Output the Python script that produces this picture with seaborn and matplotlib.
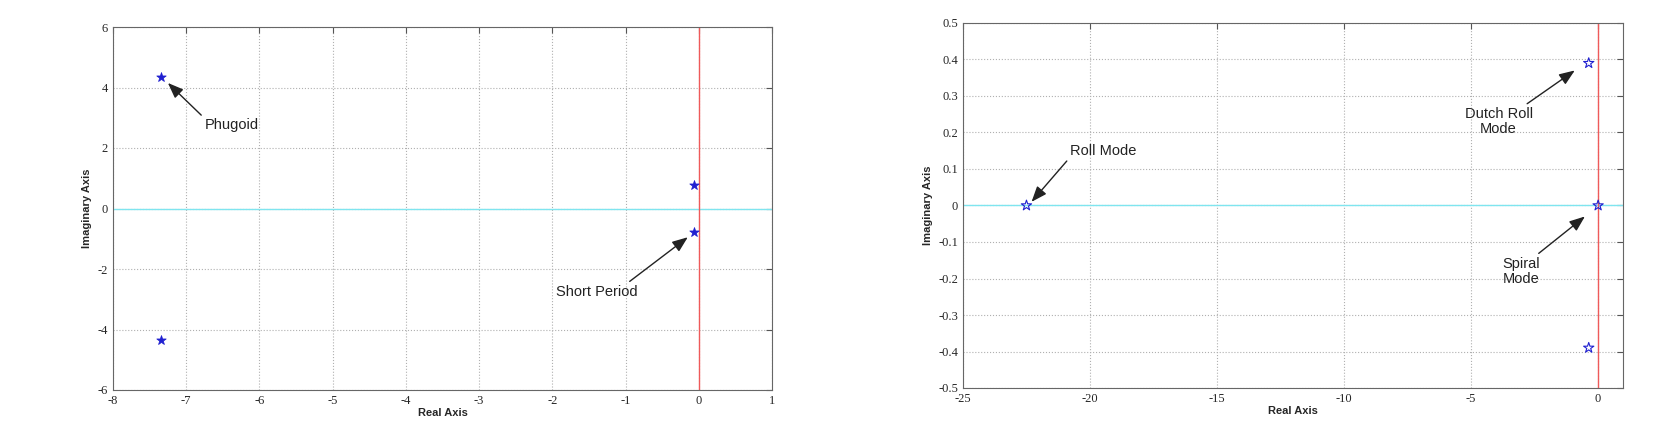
import seaborn as sns
import matplotlib.pyplot as plt
import numpy as np

# longitudinal poles
long_re = [-7.35, -7.35, -0.07, -0.07]
long_im = [4.35, -4.35, 0.78, -0.78]
# lateral poles
lat_re = [-22.5, -0.35, -0.35, 0.02]
lat_im = [0.0, 0.39, -0.39, 0.0]

sns.set_style("white")
plt.rcParams["font.family"] = ["Liberation Serif", "DejaVu Serif"]

fig = plt.figure(figsize=(16.64, 4.38), dpi=100)
ax1 = fig.add_axes([113 / 1664, 48 / 438, 659 / 1664, 363 / 438])
ax2 = fig.add_axes([963 / 1664, 50 / 438, 660 / 1664, 365 / 438])

lab = dict(fontfamily="Liberation Sans", fontweight="bold", fontsize=8)
arrow = dict(arrowstyle="-|>,head_length=0.9,head_width=0.35", color="#222222", lw=1, shrinkA=0, shrinkB=0)
txt = dict(fontfamily="Liberation Sans", fontsize=10.5, color="#222222")


def setup(ax, xlim, ylim, xticks, yticks):
    ax.axhline(0, color="#7fe5ef", lw=1, zorder=1)
    ax.axvline(0, color="#ef5a5a", lw=1, zorder=1)
    ax.set_xlim(xlim)
    ax.set_ylim(ylim)
    ax.set_xticks(xticks)
    ax.set_yticks(yticks)
    ax.grid(True, ls=":", color="#b0b0b0", lw=0.8)
    ax.tick_params(direction="in", length=4, labelsize=9, top=True, right=True, color="#555555")
    for s in ax.spines.values():
        s.set_color("#666666")
    ax.set_xlabel("Real Axis", labelpad=1, **lab)
    ax.set_ylabel("Imaginary Axis", **lab)


setup(ax1, (-8, 1), (-6, 6), np.arange(-8, 2), np.arange(-6, 7, 2))
ax1.set_xticklabels([str(v) for v in range(-8, 2)])
ax1.set_yticklabels([str(v) for v in range(-6, 7, 2)])
sns.scatterplot(x=long_re, y=long_im, ax=ax1, marker="*", s=50, color="#2020d0", edgecolor="#2020d0", zorder=3)
ax1.annotate("Phugoid", xy=(-7.25, 4.15), xytext=(-6.75, 2.75), ha="left", va="center",
             arrowprops=dict(arrow, relpos=(0, 1)), **txt)
ax1.annotate("Short Period", xy=(-0.15, -0.95), xytext=(-1.95, -2.75), ha="left", va="center",
             arrowprops=dict(arrow, relpos=(0.85, 1)), **txt)

setup(ax2, (-25, 1), (-0.5, 0.5), np.arange(-25, 1, 5), np.round(np.arange(-0.5, 0.51, 0.1), 1))
ax2.set_xticklabels([str(v) for v in range(-25, 1, 5)])
ax2.set_yticklabels(["-0.5", "-0.4", "-0.3", "-0.2", "-0.1", "0", "0.1", "0.2", "0.3", "0.4", "0.5"])
sns.scatterplot(x=lat_re, y=lat_im, ax=ax2, marker="*", s=60, facecolor="none", edgecolor="#2020d0",
                linewidth=0.8, zorder=3)
ax2.annotate("Roll Mode", xy=(-22.3, 0.01), xytext=(-20.8, 0.15), ha="left", va="center",
             arrowprops=dict(arrow, relpos=(0, 0)), **txt)
ax2.annotate("Dutch Roll\nMode", xy=(-0.9, 0.37), xytext=(-3.9, 0.23), ha="center", va="center",
             linespacing=1.1, arrowprops=dict(arrow, relpos=(0.85, 1)), **txt)
ax2.annotate("Spiral\nMode", xy=(-0.5, -0.03), xytext=(-3.0, -0.18), ha="center", va="center",
             linespacing=1.1, arrowprops=dict(arrow, relpos=(0.85, 1)), **txt)

fig.savefig("out.png", dpi=100)
